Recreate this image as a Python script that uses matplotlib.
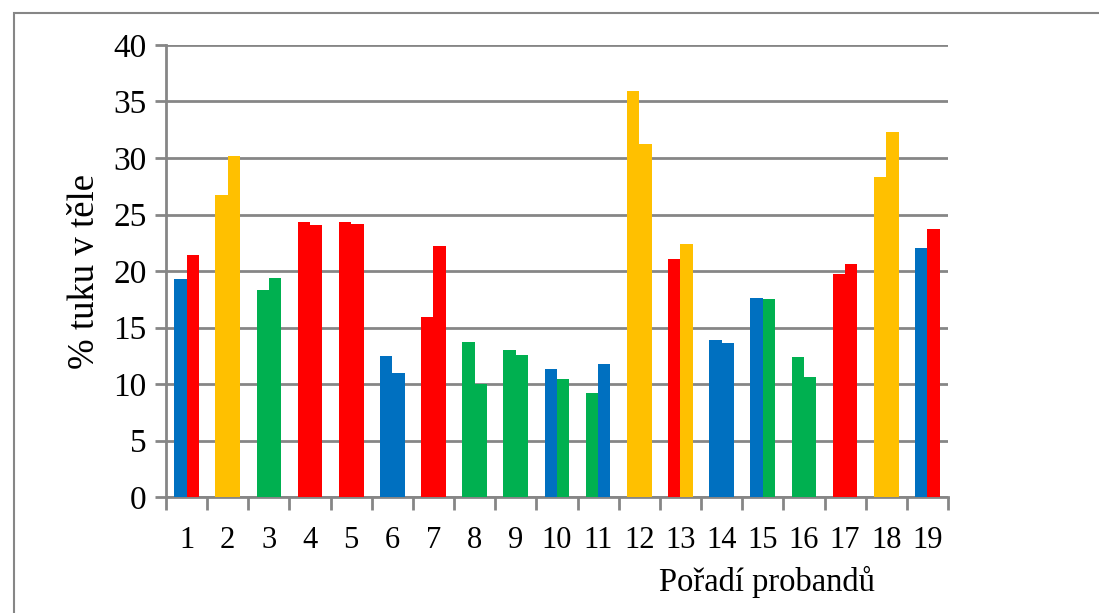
import numpy as np
import matplotlib.pyplot as plt
from matplotlib.patches import Rectangle

plt.rcParams['font.family'] = ['Liberation Serif', 'DejaVu Serif']

probands = [str(i) for i in range(1, 20)]
first = [19.3, 26.7, 18.3, 24.3, 24.3, 12.5, 15.9, 13.7, 13.0, 11.3,
         9.2, 35.9, 21.1, 13.9, 17.6, 12.4, 19.7, 28.3, 22.0]
second = [21.4, 30.2, 19.4, 24.1, 24.2, 11.0, 22.2, 10.0, 12.6, 10.4,
          11.8, 31.2, 22.4, 13.6, 17.5, 10.6, 20.6, 32.3, 23.7]
first_col = ['b', 'y', 'g', 'r', 'r', 'b', 'r', 'g', 'g', 'b',
             'g', 'y', 'r', 'b', 'b', 'g', 'r', 'y', 'b']
second_col = ['r', 'y', 'g', 'r', 'r', 'b', 'r', 'g', 'g', 'g',
              'b', 'y', 'y', 'b', 'g', 'g', 'r', 'y', 'r']
palette = {'b': '#0070C0', 'r': '#FF0000', 'y': '#FFC000', 'g': '#00B050'}

fig = plt.figure(figsize=(10.99, 6.13), dpi=100)
ax = fig.add_axes([0.151, 0.1892, 0.7116, 0.7374])

x = np.arange(1, 20)
w = 0.3
ax.bar(x - w / 2, first, w, color=[palette[c] for c in first_col], zorder=3)
ax.bar(x + w / 2, second, w, color=[palette[c] for c in second_col], zorder=3)

grid = '#868686'
ax.set_xlim(0.5, 19.5)
ax.set_ylim(0, 40)
ax.set_yticks(range(0, 41, 5))
ax.yaxis.grid(True, color=grid, linewidth=2, zorder=0)
ax.set_axisbelow(True)
for s in ['top', 'right']:
    ax.spines[s].set_visible(False)
for s in ['left', 'bottom']:
    ax.spines[s].set_color(grid)
    ax.spines[s].set_linewidth(2)
ax.tick_params(axis='y', length=8, width=2, color=grid, labelsize=24, pad=6)

# category boundary ticks on x axis, labels centred between them
ax.set_xticks(np.arange(0.5, 20, 1))
ax.set_xticklabels([])
ax.tick_params(axis='x', which='major', length=9, width=2, color=grid)
ax.set_xticks(x, minor=True)
ax.set_xticklabels(probands, minor=True)
ax.tick_params(axis='x', which='minor', length=0, labelsize=22, pad=21)

ax.set_ylabel('% tuku v těle', fontsize=26.5, labelpad=8)
fig.text(767 / 1099, (613 - 582) / 613, 'Pořadí probandů', fontsize=23.5,
         ha='center', va='center')

fig.patches.append(Rectangle((14 / 1099, -0.1), 1.2, 0.1 + (613 - 13) / 613,
                             transform=fig.transFigure, fill=False,
                             edgecolor='#868686', linewidth=1.5))

fig.savefig('out.png', dpi=100)
